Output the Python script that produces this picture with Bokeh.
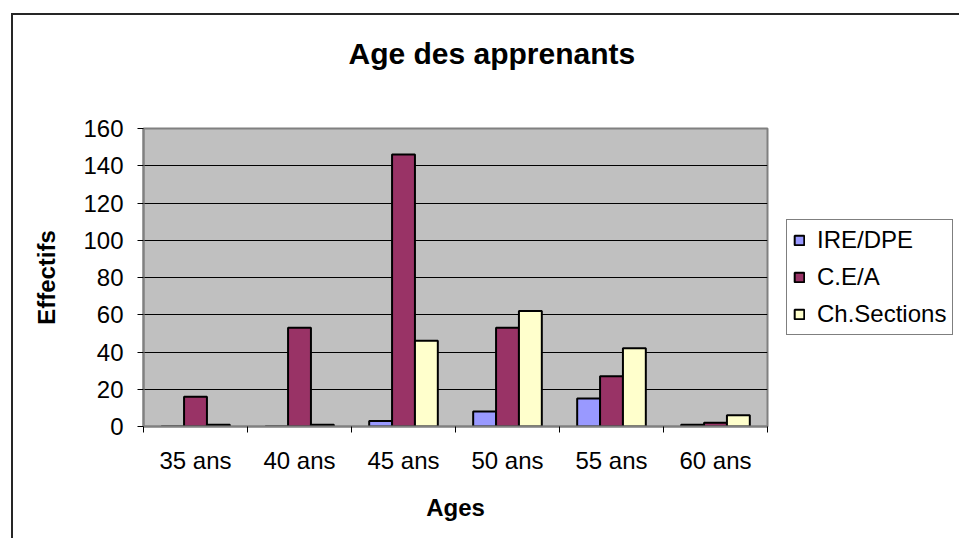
import numpy as np
from bokeh.plotting import figure
from bokeh.models import Range1d, FixedTicker, Legend, LegendItem, Title, ColumnDataSource
from bokeh.embed import file_html
from bokeh.resources import INLINE

# ---- data ----
categories = ["35 ans", "40 ans", "45 ans", "50 ans", "55 ans", "60 ans"]
ire_dpe = [0, 0, 3, 8, 15, 1]
cea = [16, 53, 146, 53, 27, 2]
ch_sections = [1, 1, 46, 62, 42, 6]
series_names = ["IRE/DPE", "C.E/A", "Ch.Sections"]
y_ticks = [0, 20, 40, 60, 80, 100, 120, 140, 160]

title_text = "Age des apprenants"
x_title = "Ages"
y_title = "Effectifs"

colors = ["#9999FF", "#993366", "#FFFFCC"]
FONT = "Liberation Sans"

n = len(categories)
centers = np.arange(n) + 0.5
bar_w = 0.22

p = figure(frame_width=624, frame_height=298,
           x_range=Range1d(0, n), y_range=Range1d(0, 160),
           output_backend="svg", toolbar_location=None,
           min_border_left=130, min_border_right=190,
           min_border_top=113, min_border_bottom=112,
           background_fill_color="#C0C0C0", border_fill_color="white",
           outline_line_color="#808080", outline_line_width=2)
p.styles = {"border-left": "2px solid #262626", "border-top": "2px solid #262626"}
p.margin = (13, 0, 0, 11)

renderers = []
for k, (vals, col) in enumerate(zip([ire_dpe, cea, ch_sections], colors)):
    src = ColumnDataSource(dict(x=centers + (k - 1) * bar_w, top=vals))
    r = p.vbar(x="x", top="top", bottom=0, width=bar_w, source=src,
               fill_color=col, line_color="black", line_width=2)
    renderers.append(r)

# x axis: labels at centers, ticks at category boundaries
xa = p.xaxis[0]
xa.ticker = FixedTicker(ticks=list(centers), minor_ticks=list(range(n + 1)))
xa.major_label_overrides = {float(c): lab for c, lab in zip(centers, categories)}
xa.major_tick_out = 0
xa.major_tick_in = 0
xa.minor_tick_out = 6
xa.minor_tick_in = 0
xa.minor_tick_line_color = "black"
xa.minor_tick_line_width = 1
xa.axis_line_color = "#808080"
xa.axis_line_width = 2
xa.major_label_standoff = 14
xa.axis_label = x_title
xa.axis_label_standoff = 17

ya = p.yaxis[0]
ya.ticker = FixedTicker(ticks=y_ticks)
ya.major_tick_out = 6
ya.major_tick_in = 0
ya.major_tick_line_color = "black"
ya.minor_tick_line_color = None
ya.axis_line_color = "#808080"
ya.axis_line_width = 2
ya.major_label_standoff = 14
ya.axis_label = y_title
ya.axis_label_standoff = 20

for ax in (xa, ya):
    ax.major_label_text_font = FONT
    ax.major_label_text_font_size = "24px"
    ax.major_label_text_color = "black"
    ax.axis_label_text_font = FONT
    ax.axis_label_text_font_size = "24px"
    ax.axis_label_text_font_style = "bold"
    ax.axis_label_text_color = "black"

p.xgrid.visible = False
p.ygrid.grid_line_color = "black"
p.ygrid.grid_line_width = 1

# spacer (nearest the frame), then the real title above it
p.add_layout(Title(text=" ", text_font_size="1px", standoff=36), "above")
p.add_layout(Title(text=title_text, align="left", offset=205, standoff=38,
                   vertical_align="middle",
                   text_font=FONT, text_font_size="30px", text_font_style="bold",
                   text_color="black"), "above")

legend = Legend(items=[LegendItem(label=nm, renderers=[r]) for nm, r in zip(series_names, renderers)],
                location="left", orientation="vertical",
                label_text_font=FONT, label_text_font_size="24px", label_text_color="black",
                glyph_width=12, glyph_height=12, label_standoff=12,
                spacing=9, padding=6, margin=19,
                border_line_color="black", border_line_width=1,
                background_fill_color="white", background_fill_alpha=1)
p.add_layout(legend, "right")

open("out.html", "w").write(file_html(p, INLINE))
